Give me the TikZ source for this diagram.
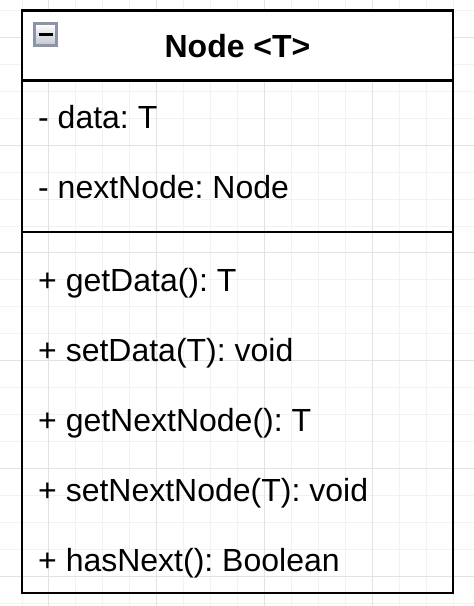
\documentclass[tikz,border=0pt]{standalone}
\usepackage{fontspec}
\setmainfont{Liberation Sans}
\frenchspacing
\definecolor{minorgrid}{RGB}{242,242,242}
\definecolor{majorgrid}{RGB}{226,226,226}
\definecolor{iconborder}{RGB}{140,148,168}
\definecolor{iconbottom}{RGB}{196,198,206}
\begin{document}
\begin{tikzpicture}[x=1pt,y=-1pt,
  minorline/.style={draw=minorgrid, line width=1pt},
  majorline/.style={draw=majorgrid, line width=1pt},
  frameline/.style={draw=black, line width=2.7pt},
  member/.style={anchor=base west, inner sep=0pt, font=\fontsize{32}{38}\selectfont},
  classtitle/.style={anchor=center, inner sep=0pt, font=\bfseries\fontsize{32}{38}\selectfont}]
\useasboundingbox (0,0) rectangle (474,606);
\fill[white] (0,0) rectangle (474,606);
% grid
\foreach \k in {-1,...,17} { \draw[minorline] ({22+26.94*\k},0) -- ({22+26.94*\k},606); }
\foreach \k in {-1,...,22} { \draw[minorline] (0,{10.5+26.94*\k}) -- (474,{10.5+26.94*\k}); }
\foreach \m in {-1,...,4} { \draw[majorline] ({22+26.94*(1+4*\m)},0) -- ({22+26.94*(1+4*\m)},606); }
\foreach \m in {-1,...,5} { \draw[majorline] (0,{10.5+26.94*(1+4*\m)}) -- (474,{10.5+26.94*(1+4*\m)}); }
% class header background
\fill[white] (22,10.5) rectangle (453,80.5);
% frame and separators
\draw[frameline] (22,10.5) rectangle (453,593);
\draw[frameline] (22,80.5) -- (453,80.5);
\draw[frameline] (22,232) -- (453,232);
% collapse icon
\draw[iconborder, line width=2.4pt, top color=white, bottom color=iconbottom] (34.5,23.5) rectangle (56.5,45.5);
\draw[black, line width=2.6pt] (38.5,34.5) -- (52.5,34.5);
% texts
\node[classtitle] (title) at (237.5,46) {Node <T>};
\node[member] (a1) at (38,128) {- data: T};
\node[member] (a2) at (38,198) {- nextNode: Node};
\node[member] (m1) at (38,291) {+ getData(): T};
\node[member] (m2) at (38,361) {+ setData(T): void};
\node[member] (m3) at (38,431) {+ getNextNode(): T};
\node[member] (m4) at (38,501) {+ setNextNode(T): void};
\node[member] (m5) at (38,571) {+ hasNext(): Boolean};
\end{tikzpicture}
\end{document}
